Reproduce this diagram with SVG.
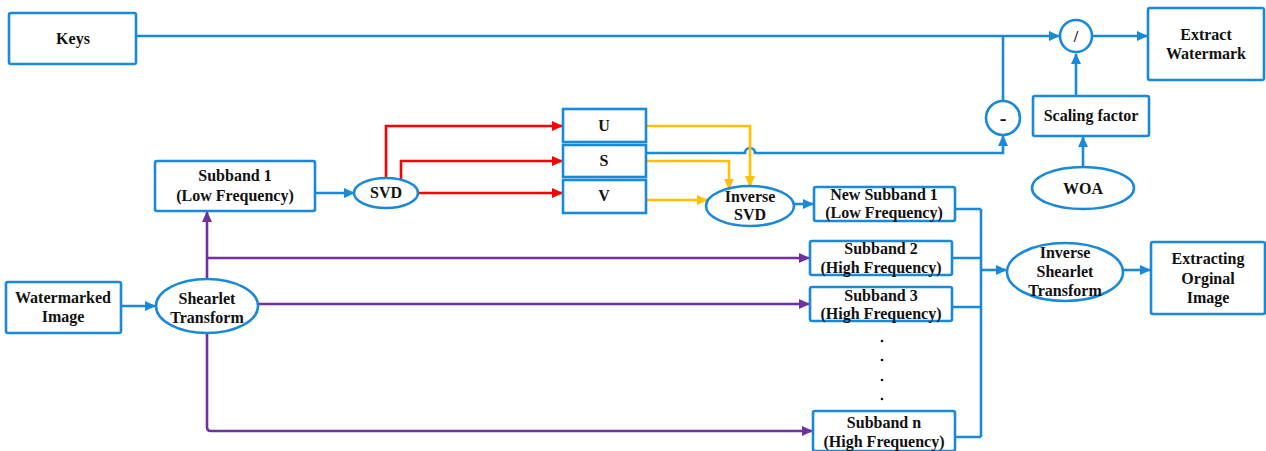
<svg xmlns="http://www.w3.org/2000/svg" width="1266" height="451" viewBox="0 0 1266 451">
<style>
.box{fill:#fff;stroke:#1a8ad8;stroke-width:2.6}
.ell{fill:#fff;stroke:#1a8ad8;stroke-width:2.6}
text{font-family:'Liberation Serif','Times New Roman',Times,serif;font-weight:bold;font-size:16px;fill:#111;text-anchor:middle}
.b{fill:none;stroke:#1a8ad8;stroke-width:2.6}
.r{fill:none;stroke:#ff0000;stroke-width:2.6}
.y{fill:none;stroke:#ffc000;stroke-width:2.6}
.p{fill:none;stroke:#7030a0;stroke-width:2.6}
</style>
<defs>
<marker id="ab" markerUnits="userSpaceOnUse" markerWidth="11" markerHeight="10" refX="10" refY="5" orient="auto"><path d="M0,0 L11,5 L0,10 z" fill="#1a8ad8"/></marker>
<marker id="ar" markerUnits="userSpaceOnUse" markerWidth="11" markerHeight="10" refX="10" refY="5" orient="auto"><path d="M0,0 L11,5 L0,10 z" fill="#ff0000"/></marker>
<marker id="ay" markerUnits="userSpaceOnUse" markerWidth="11" markerHeight="10" refX="10" refY="5" orient="auto"><path d="M0,0 L11,5 L0,10 z" fill="#ffc000"/></marker>
<marker id="ap" markerUnits="userSpaceOnUse" markerWidth="11" markerHeight="10" refX="10" refY="5" orient="auto"><path d="M0,0 L11,5 L0,10 z" fill="#7030a0"/></marker>
</defs>
<g id="connectors">
<path class="b" d="M136,36 L1059,36" marker-end="url(#ab)"/>
<path class="b" d="M1003,101 L1003,36"/>
<path class="b" d="M1092,36 L1147,36" marker-end="url(#ab)"/>
<path class="b" d="M1076,96 L1076,54" marker-end="url(#ab)"/>
<path class="b" d="M1083,167 L1083,137" marker-end="url(#ab)"/>
<path class="b" d="M646,153 L745,153 A5,5 0 0 1 755,153 L1003,153 L1003,136" marker-end="url(#ab)"/>
<path class="r" d="M386,178 L386,126 L562,126" marker-end="url(#ar)"/>
<path class="r" d="M401,180 L401,161 L562,161" marker-end="url(#ar)"/>
<path class="r" d="M418,193 L562,193" marker-end="url(#ar)"/>
<path class="y" d="M646,126 L750,126 L750,186" marker-end="url(#ay)"/>
<path class="y" d="M646,161 L729,161 L729,189" marker-end="url(#ay)"/>
<path class="y" d="M646,200 L707,200" marker-end="url(#ay)"/>
<path class="b" d="M315,193 L354,193" marker-end="url(#ab)"/>
<path class="b" d="M794,204 L813,204" marker-end="url(#ab)"/>
<path class="b" d="M955,209 L981,209 M952,258 L981,258 M952,307 L981,307 M955,437 L981,437 M981,209 L981,437"/>
<path class="b" d="M981,270 L1006,270" marker-end="url(#ab)"/>
<path class="b" d="M1123,270 L1150,270" marker-end="url(#ab)"/>
<path class="b" d="M121,306 L155,306" marker-end="url(#ab)"/>
<path class="p" d="M207,280 L207,212" marker-end="url(#ap)"/>
<path class="p" d="M207,258 L809,258" marker-end="url(#ap)"/>
<path class="p" d="M258,304 L809,304" marker-end="url(#ap)"/>
<path class="p" d="M207,333 L207,427 Q207,431 211,431 L812,431" marker-end="url(#ap)"/>
</g>
<g id="keys"><rect class="box" x="9" y="13" width="127" height="51" rx="2"/><text x="73" y="44">Keys</text></g>
<g id="div"><circle class="ell" cx="1076" cy="36" r="16"/><text x="1076" y="42">/</text></g>
<g id="minus"><circle class="ell" cx="1003" cy="118" r="17"/><text x="1003" y="125" style="font-size:20px">-</text></g>
<g id="extract"><rect class="box" x="1148" y="8" width="116" height="72" rx="2"/><text x="1206" y="40">Extract</text><text x="1206" y="59">Watermark</text></g>
<g id="scaling"><rect class="box" x="1033" y="96" width="116" height="40" rx="2"/><text x="1091" y="121">Scaling factor</text></g>
<g id="woa"><ellipse class="ell" cx="1083" cy="188" rx="51" ry="21"/><text x="1083" y="194">WOA</text></g>
<g id="u"><rect class="box" x="563" y="109" width="83" height="33"/><text x="604" y="131">U</text></g>
<g id="s"><rect class="box" x="563" y="145" width="83" height="32"/><text x="604" y="166">S</text></g>
<g id="v"><rect class="box" x="563" y="180" width="83" height="33"/><text x="604" y="201">V</text></g>
<g id="svd"><ellipse class="ell" cx="386" cy="193" rx="32" ry="15"/><text x="386" y="198">SVD</text></g>
<g id="isvd"><ellipse class="ell" cx="750" cy="206" rx="44" ry="20"/><text x="750" y="202">Inverse</text><text x="750" y="220">SVD</text></g>
<g id="subband1"><rect class="box" x="155" y="161" width="160" height="50" rx="2"/><text x="235" y="181">Subband 1</text><text x="235" y="201">(Low Frequency)</text></g>
<g id="newsub1"><rect class="box" x="814" y="187" width="141" height="34" rx="2"/><text x="884" y="200">New Subband 1</text><text x="884" y="218">(Low Frequency)</text></g>
<g id="sub2"><rect class="box" x="810" y="241" width="142" height="34" rx="2"/><text x="881" y="254">Subband 2</text><text x="881" y="273">(High Frequency)</text></g>
<g id="sub3"><rect class="box" x="810" y="287" width="142" height="34" rx="2"/><text x="881" y="301">Subband 3</text><text x="881" y="319">(High Frequency)</text></g>
<g id="dots"><circle cx="882" cy="341" r="1.3" fill="#111"/><circle cx="882" cy="360" r="1.3" fill="#111"/><circle cx="882" cy="380" r="1.3" fill="#111"/><circle cx="882" cy="399" r="1.3" fill="#111"/></g>
<g id="subn"><rect class="box" x="813" y="411" width="142" height="40" rx="2"/><text x="884" y="428">Subband n</text><text x="884" y="447">(High Frequency)</text></g>
<g id="ishearlet"><ellipse class="ell" cx="1065" cy="272" rx="58" ry="29"/><text x="1065" y="258">Inverse</text><text x="1065" y="277">Shearlet</text><text x="1065" y="296">Transform</text></g>
<g id="extracting"><rect class="box" x="1151" y="242" width="114" height="72" rx="2"/><text x="1208" y="264">Extracting</text><text x="1208" y="284">Orginal</text><text x="1208" y="303">Image</text></g>
<g id="watermarked"><rect class="box" x="6" y="282" width="115" height="51" rx="2"/><text x="63" y="303">Watermarked</text><text x="63" y="322">Image</text></g>
<g id="shearlet"><ellipse class="ell" cx="207" cy="306" rx="51" ry="27"/><text x="207" y="304">Shearlet</text><text x="207" y="323">Transform</text></g>
</svg>
